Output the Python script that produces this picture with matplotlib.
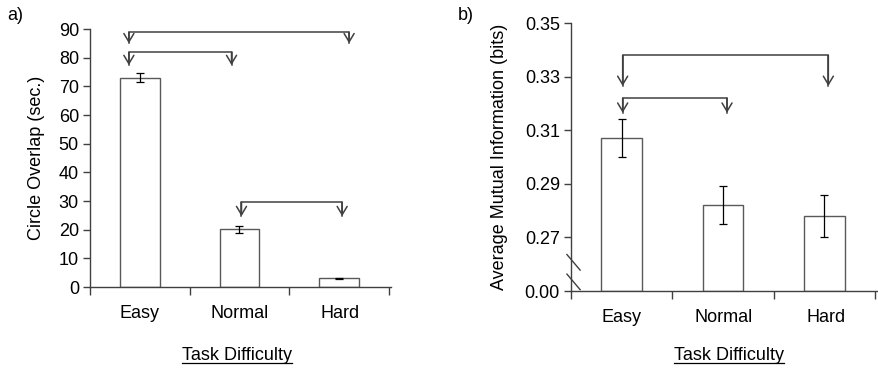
import matplotlib
matplotlib.use("Agg")
import matplotlib.pyplot as plt
import numpy as np

plt.rcParams['font.family'] = ['Liberation Sans', 'DejaVu Sans']

# ---- data ----
categories = ['Easy', 'Normal', 'Hard']

overlap = [73.0, 20.2, 3.0]
overlap_err = [1.5, 1.2, 0.2]

mutual_info = [0.307, 0.282, 0.278]
mutual_err = [0.007, 0.007, 0.008]

# brackets: (x_left, x_right, bar height, arrow tip)
brackets_a = [(-0.11, 2.1, 88.9, 85.0), (-0.11, 0.92, 81.9, 77.4), (1.02, 2.03, 29.6, 24.7)]
brackets_b = [(0.01, 2.04, 0.338, 0.3265), (0.01, 1.04, 0.322, 0.3165)]

axis_col = '#404040'
bar_col = '#595959'
fs = 13

fig = plt.figure(figsize=(8.79, 3.70), dpi=100)
ax1 = fig.add_axes([0.1024, 0.2243, 0.3424, 0.6973])
ax2 = fig.add_axes([0.6496, 0.2135, 0.3481, 0.7243])


def style(ax):
    for s in ['top', 'right']:
        ax.spines[s].set_visible(False)
    for s in ['left', 'bottom']:
        ax.spines[s].set_color(axis_col)
        ax.spines[s].set_linewidth(1.0)
    ax.tick_params(axis='y', colors=axis_col, labelcolor='black', labelsize=fs, length=5, width=1.0, pad=3)
    ax.tick_params(axis='x', colors=axis_col, length=6, width=1.0)
    ax.set_xticks([-0.5, 0.5, 1.5, 2.5])
    ax.set_xticklabels([])
    ax.set_xlim(-0.5, 2.52)


def draw_brackets(ax, brackets):
    for x0, x1, top, tip in brackets:
        ax.plot([x0, x0, x1, x1], [tip, top, top, tip], color=axis_col, lw=1.1, clip_on=False)
        for x in (x0, x1):
            ax.annotate('', xy=(x, tip), xytext=(x, top),
                        arrowprops=dict(arrowstyle='->,head_length=0.6,head_width=0.36',
                                        color=axis_col, lw=1.1, shrinkA=0, shrinkB=0),
                        annotation_clip=False)


x = np.arange(len(categories))

# ---- a) ----
style(ax1)
ax1.bar(x, overlap, width=0.4, color='white', edgecolor=bar_col, linewidth=1.0, zorder=2)
ax1.errorbar(x, overlap, yerr=overlap_err, fmt='none', ecolor='black', elinewidth=0.9, capsize=3, capthick=0.9, zorder=3)
ax1.set_ylim(0, 90)
ax1.set_yticks(np.arange(0, 91, 10))
ax1.set_ylabel('Circle Overlap (sec.)', fontsize=fs, labelpad=10)
draw_brackets(ax1, brackets_a)
for i, c in enumerate(categories):
    fig.text((140 + 100 * i) / 879, 1 - 314 / 370, c, ha='center', va='center', fontsize=fs)
fig.text(7 / 879, 1 - 15 / 370, 'a)', ha='left', va='center', fontsize=fs)

# ---- b) broken axis: bottom tick shows 0.00 ----
style(ax2)
base = 0.25
ax2.bar(x, [v - base for v in mutual_info], bottom=base, width=0.4, color='white', edgecolor=bar_col, linewidth=1.0, zorder=2)
ax2.errorbar(x, mutual_info, yerr=mutual_err, fmt='none', ecolor='black', elinewidth=0.9, capsize=3, capthick=0.9, zorder=3)
ax2.set_ylim(base, 0.35)
yt = [0.25, 0.27, 0.29, 0.31, 0.33, 0.35]
ax2.set_yticks(yt)
ax2.set_yticklabels(['0.00'] + ['%.2f' % v for v in yt[1:]])
ax2.set_ylabel('Average Mutual Information (bits)', fontsize=fs, labelpad=12)
draw_brackets(ax2, brackets_b)
# break marks
for y0 in (0.2636, 0.2563):
    ax2.plot([-0.54, -0.41], [y0, y0 - 0.0058], color=axis_col, lw=1.0, clip_on=False)
for i, c in enumerate(categories):
    fig.text((622 + 102 * i) / 879, 1 - 317 / 370, c, ha='center', va='center', fontsize=fs)
fig.text(458 / 879, 1 - 15 / 370, 'b)', ha='left', va='center', fontsize=fs)

# underlined x titles
titles = []
for cx in (237, 729):
    titles.append(fig.text(cx / 879, 1 - 356 / 370, 'Task Difficulty', ha='center', va='center', fontsize=fs))
fig.canvas.draw()
for t in titles:
    bb = t.get_window_extent().transformed(fig.transFigure.inverted())
    yl = bb.y0 + 0.1 * (bb.y1 - bb.y0)
    fig.add_artist(plt.Line2D([bb.x0, bb.x1], [yl, yl], color='black', lw=0.9, transform=fig.transFigure))

fig.savefig('out.png', dpi=100)
